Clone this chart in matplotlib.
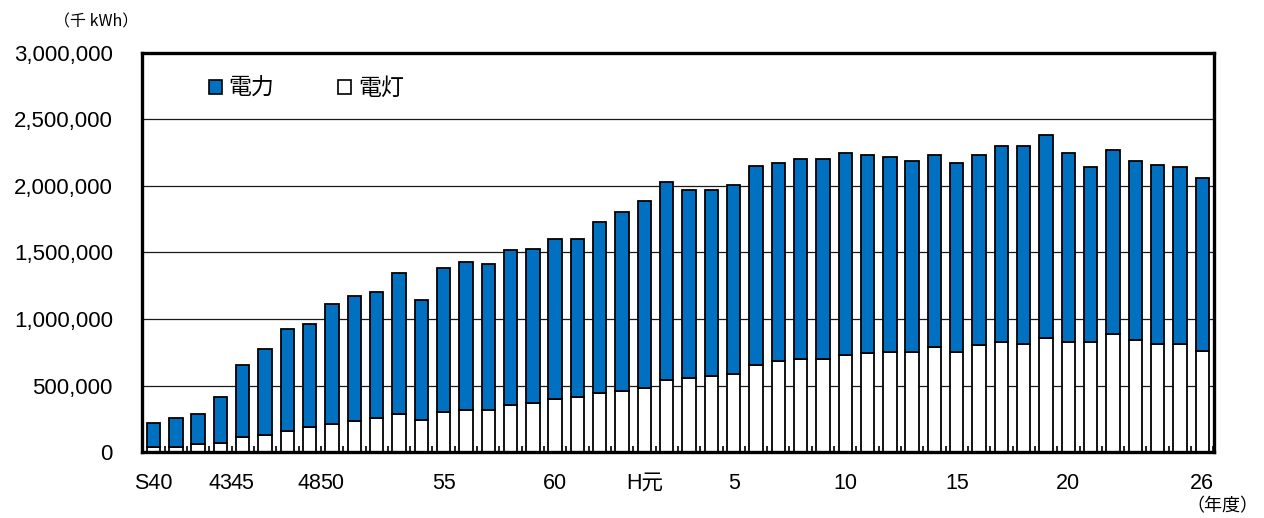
import matplotlib
matplotlib.use("Agg")
import matplotlib.pyplot as plt
from matplotlib.patches import Patch
import numpy as np

plt.rcParams['font.family'] = ['Liberation Sans', 'Noto Sans CJK JP', 'DejaVu Sans']

# 年度 (fiscal years; S44 and S49 are not in the series)
years = ['S40', 'S41', 'S42', 'S43', 'S45', 'S46', 'S47', 'S48', 'S50', 'S51',
         'S52', 'S53', 'S54', 'S55', 'S56', 'S57', 'S58', 'S59', 'S60', 'S61',
         'S62', 'S63', 'H1', 'H2', 'H3', 'H4', 'H5', 'H6', 'H7', 'H8',
         'H9', 'H10', 'H11', 'H12', 'H13', 'H14', 'H15', 'H16', 'H17', 'H18',
         'H19', 'H20', 'H21', 'H22', 'H23', 'H24', 'H25', 'H26']

# 電灯 (千kWh)
dento = [40000, 40000, 57000, 70000, 112000, 127000, 157000, 185000, 212000, 230000,
         257000, 285000, 242000, 300000, 315000, 315000, 357000, 372000, 397000, 412000,
         440000, 455000, 482000, 540000, 555000, 572000, 585000, 657000, 685000, 697000,
         697000, 727000, 742000, 752000, 755000, 790000, 755000, 802000, 827000, 815000,
         860000, 827000, 827000, 885000, 842000, 815000, 815000, 757000]

# 電力 (千kWh)
denryoku = [180000, 217000, 230000, 345000, 545000, 645000, 770000, 775000, 903000, 943000,
            943000, 1060000, 900000, 1087000, 1115000, 1100000, 1161000, 1158000, 1205000, 1190000,
            1292000, 1347000, 1405000, 1490000, 1417000, 1400000, 1420000, 1491000, 1487000, 1505000,
            1505000, 1518000, 1488000, 1465000, 1432000, 1440000, 1417000, 1428000, 1473000, 1485000,
            1527000, 1418000, 1318000, 1387000, 1345000, 1345000, 1330000, 1303000]

# labelled years on the x axis
label_years = ['S40', 'S43', 'S45', 'S48', 'S50', 'S55', 'S60', 'H1', 'H5', 'H10', 'H15', 'H20', 'H26']
label_texts = ['S40', '43', '45', '48', '50', '55', '60', 'H元', '5', '10', '15', '20', '26']

y_ticks = [0, 500000, 1000000, 1500000, 2000000, 2500000, 3000000]

blue = '#0070C0'

fig = plt.figure(figsize=(12.64, 5.18), dpi=100)
ax = fig.add_axes([0.1123, 0.1274, 0.848, 0.7703])

x = np.arange(len(years))
bw = 0.6
ax.bar(x, dento, width=bw, color='white', edgecolor='black', linewidth=1.3, zorder=3)
ax.bar(x, denryoku, width=bw, bottom=dento, color=blue, edgecolor='black', linewidth=1.3, zorder=3)

ax.set_xlim(-0.52, len(years) - 0.48)
ax.set_ylim(0, 3000000)

ax.set_yticks(y_ticks)
ax.set_yticklabels([f'{v:,}' for v in y_ticks])
ax.yaxis.grid(True, color='#1a1a1a', linewidth=0.9, zorder=0)
ax.tick_params(axis='y', length=0, pad=21, labelsize=16)

pos = [years.index(y) for y in label_years]
ax.set_xticks(pos)
ax.set_xticklabels(label_texts)
ax.tick_params(axis='x', which='major', length=0, pad=15, labelsize=15.5)
ax.set_xticks(np.arange(len(years) + 1) - 0.5, minor=True)
ax.tick_params(axis='x', which='minor', direction='in', length=4, width=1.2, color='black')

for s in ax.spines.values():
    s.set_linewidth(2.4)
    s.set_color('black')
    s.set_zorder(5)

handles = [Patch(facecolor=blue, edgecolor='black', linewidth=1.2),
           Patch(facecolor='white', edgecolor='black', linewidth=1.2)]
ax.legend(handles, ['電力', '電灯'], ncol=2, frameon=False, loc='upper left',
          bbox_to_anchor=(0.0625, 0.94), borderpad=0, borderaxespad=0,
          handlelength=0.55, handleheight=0.55, handletextpad=0.3, columnspacing=2.8,
          prop={'family': ['Noto Sans CJK JP'], 'size': 16.5})

fig.text(0.043, 0.958, '（千 kWh）', fontsize=11.5, family=['Noto Sans CJK JP'], va='center')
fig.text(0.939, 0.022, '（年度）', fontsize=13, family=['Noto Sans CJK JP'], va='center')

fig.savefig('out.png', dpi=100)
